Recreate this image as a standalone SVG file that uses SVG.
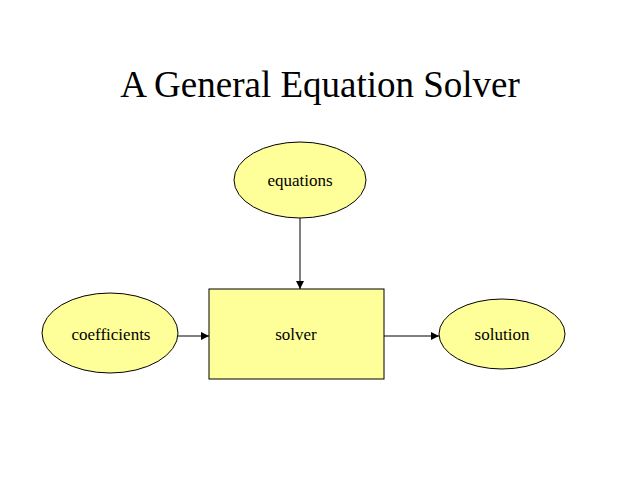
<svg xmlns="http://www.w3.org/2000/svg" width="640" height="480" viewBox="0 0 640 480">
<style>
.n{fill:#ffff99;stroke:#000;stroke-width:1}
.t{font-family:"Liberation Serif",serif;font-size:17px;text-anchor:middle;fill:#000}
.c{stroke:#000;stroke-width:1;fill:none;marker-end:url(#a)}
</style>
<defs><marker id="a" viewBox="0 0 10 10" refX="10" refY="5" markerWidth="8" markerHeight="8" markerUnits="userSpaceOnUse" orient="auto"><path d="M0,0L10,5L0,10z" fill="#000"/></marker></defs>
<rect width="640" height="480" fill="#fff"/>
<text x="320" y="97" font-family="Liberation Serif,serif" font-size="37" text-anchor="middle">A General Equation Solver</text>
<g id="connectors">
<line class="c" x1="300" y1="218" x2="300" y2="289"/>
<line class="c" x1="178" y1="336" x2="209" y2="336"/>
<line class="c" x1="384" y1="336" x2="439" y2="336"/>
</g>
<g id="equations"><ellipse class="n" cx="300" cy="180" rx="66" ry="38"/><text class="t" x="300" y="186">equations</text></g>
<g id="coefficients"><ellipse class="n" cx="110" cy="333" rx="68" ry="40"/><text class="t" x="111" y="340">coefficients</text></g>
<g id="solver"><rect class="n" x="209" y="289" width="175" height="90"/><text class="t" x="296" y="340">solver</text></g>
<g id="solution"><ellipse class="n" cx="502" cy="334" rx="63" ry="35"/><text class="t" x="502" y="340">solution</text></g>
</svg>
